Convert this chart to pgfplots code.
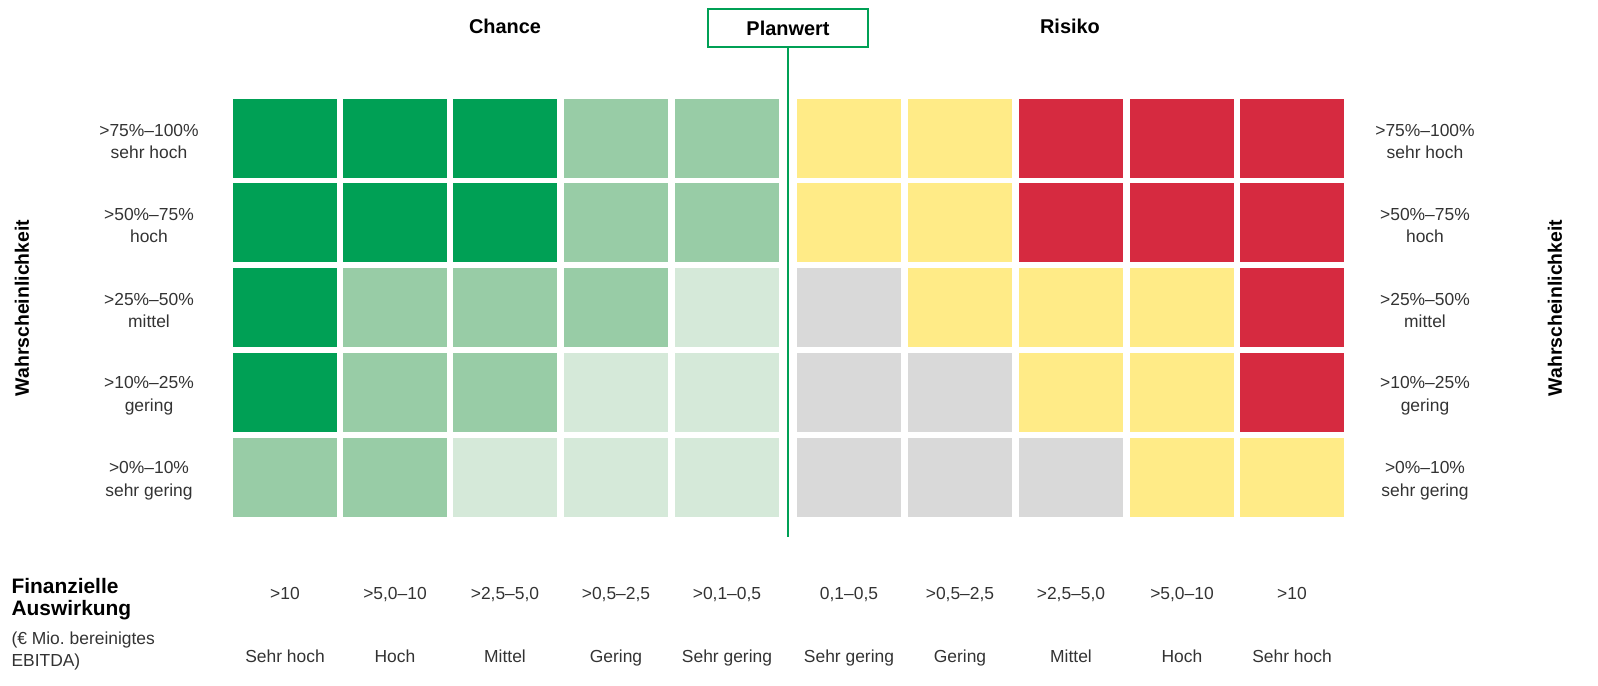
\documentclass[border=0pt]{standalone}
\usepackage{pgfplots}
\pgfplotsset{compat=1.18}
\usepackage{pgfplotstable}
\usepackage{fontspec}
\setmainfont{Liberation Sans}
\frenchspacing
\definecolor{cDG}{HTML}{00A055}
\definecolor{cMG}{HTML}{98CCA6}
\definecolor{cLG}{HTML}{D5E9D9}
\definecolor{cGR}{HTML}{D9D9D9}
\definecolor{cYE}{HTML}{FFEB87}
\definecolor{cRE}{HTML}{D62A40}
\definecolor{txt}{HTML}{333333}
\pgfdeclareplotmark{cell}{%
  \pgfpathrectangle{\pgfpoint{-52bp}{-39.5bp}}{\pgfpoint{104bp}{79bp}}%
  \pgfusepath{fill}}
% x = column centre (px), y = row centre (px from top), c = colour class
\pgfplotstableread{
x y c
285 138.5 dg
395 138.5 dg
505 138.5 dg
616 138.5 mg
727 138.5 mg
849 138.5 ye
960 138.5 ye
1071 138.5 re
1182 138.5 re
1292 138.5 re
285 222.5 dg
395 222.5 dg
505 222.5 dg
616 222.5 mg
727 222.5 mg
849 222.5 ye
960 222.5 ye
1071 222.5 re
1182 222.5 re
1292 222.5 re
285 307.5 dg
395 307.5 mg
505 307.5 mg
616 307.5 mg
727 307.5 lg
849 307.5 gr
960 307.5 ye
1071 307.5 ye
1182 307.5 ye
1292 307.5 re
285 392.5 dg
395 392.5 mg
505 392.5 mg
616 392.5 lg
727 392.5 lg
849 392.5 gr
960 392.5 gr
1071 392.5 ye
1182 392.5 ye
1292 392.5 re
285 477.5 mg
395 477.5 mg
505 477.5 lg
616 477.5 lg
727 477.5 lg
849 477.5 gr
960 477.5 gr
1071 477.5 gr
1182 477.5 ye
1292 477.5 ye
}\cells
\tikzset{rl/.style={font=\fontsize{17.5}{23}\selectfont, text=txt, align=center},
         cl/.style={font=\fontsize{17.5}{22}\selectfont, text=txt},
         tt/.style={font=\fontsize{20}{24}\selectfont\bfseries}}
\begin{document}
\begin{tikzpicture}
\begin{axis}[
  scale only axis, width=1598bp, height=686bp,
  xmin=0, xmax=1598, ymin=0, ymax=686, y dir=reverse,
  hide axis, clip=false,
]
\path (axis cs:0,0) rectangle (axis cs:1598,686);
\addplot[scatter, only marks, mark=cell, scatter src=explicit symbolic,
  scatter/classes={
    dg={mark=cell,fill=cDG,draw=none},
    mg={mark=cell,fill=cMG,draw=none},
    lg={mark=cell,fill=cLG,draw=none},
    gr={mark=cell,fill=cGR,draw=none},
    ye={mark=cell,fill=cYE,draw=none},
    re={mark=cell,fill=cRE,draw=none}}]
  table[x=x, y=y, meta=c] {\cells};
% Planwert marker
\draw[cDG, line width=2.5bp] (axis cs:788,47) -- (axis cs:788,537);
\draw[cDG, line width=2.5bp, fill=white] (axis cs:708,9) rectangle (axis cs:868,47);
\node[tt] at (axis cs:788,28) {Planwert};
\node[tt] at (axis cs:505,26) {Chance};
\node[tt] at (axis cs:1070,26) {Risiko};
% Wahrscheinlichkeit
\node[font=\fontsize{19.5}{24}\selectfont\bfseries, rotate=90] at (axis cs:22,308) {Wahrscheinlichkeit};
\node[font=\fontsize{19.5}{24}\selectfont\bfseries, rotate=90] at (axis cs:1555,308) {Wahrscheinlichkeit};
% row labels
\node[rl] at (axis cs:149,141.5) {>75\%–100\%\\sehr hoch};
\node[rl] at (axis cs:149,225.5) {>50\%–75\%\\hoch};
\node[rl] at (axis cs:149,310.5) {>25\%–50\%\\mittel};
\node[rl] at (axis cs:149,395.5) {>10\%–25\%\\gering};
\node[rl] at (axis cs:149,480.5) {>0\%–10\%\\sehr gering};
\node[rl] at (axis cs:1425,141.5) {>75\%–100\%\\sehr hoch};
\node[rl] at (axis cs:1425,225.5) {>50\%–75\%\\hoch};
\node[rl] at (axis cs:1425,310.5) {>25\%–50\%\\mittel};
\node[rl] at (axis cs:1425,395.5) {>10\%–25\%\\gering};
\node[rl] at (axis cs:1425,480.5) {>0\%–10\%\\sehr gering};
% column labels
\node[cl] at (axis cs:285,595) {\strut >10};
\node[cl] at (axis cs:395,595) {\strut >5,0–10};
\node[cl] at (axis cs:505,595) {\strut >2,5–5,0};
\node[cl] at (axis cs:616,595) {\strut >0,5–2,5};
\node[cl] at (axis cs:727,595) {\strut >0,1–0,5};
\node[cl] at (axis cs:849,595) {\strut 0,1–0,5};
\node[cl] at (axis cs:960,595) {\strut >0,5–2,5};
\node[cl] at (axis cs:1071,595) {\strut >2,5–5,0};
\node[cl] at (axis cs:1182,595) {\strut >5,0–10};
\node[cl] at (axis cs:1292,595) {\strut >10};
\node[cl] at (axis cs:285,658) {\strut Sehr hoch};
\node[cl] at (axis cs:395,658) {\strut Hoch};
\node[cl] at (axis cs:505,658) {\strut Mittel};
\node[cl] at (axis cs:616,658) {\strut Gering};
\node[cl] at (axis cs:727,658) {\strut Sehr gering};
\node[cl] at (axis cs:849,658) {\strut Sehr gering};
\node[cl] at (axis cs:960,658) {\strut Gering};
\node[cl] at (axis cs:1071,658) {\strut Mittel};
\node[cl] at (axis cs:1182,658) {\strut Hoch};
\node[cl] at (axis cs:1292,658) {\strut Sehr hoch};
\node[font=\fontsize{21}{22}\selectfont\bfseries, align=left, anchor=west] at (axis cs:8,599) {Finanzielle\\Auswirkung};
\node[font=\fontsize{17.5}{22}\selectfont, text=txt, align=left, anchor=west] at (axis cs:8,651) {(€ Mio. bereinigtes\\EBITDA)};
\end{axis}
\end{tikzpicture}
\end{document}
